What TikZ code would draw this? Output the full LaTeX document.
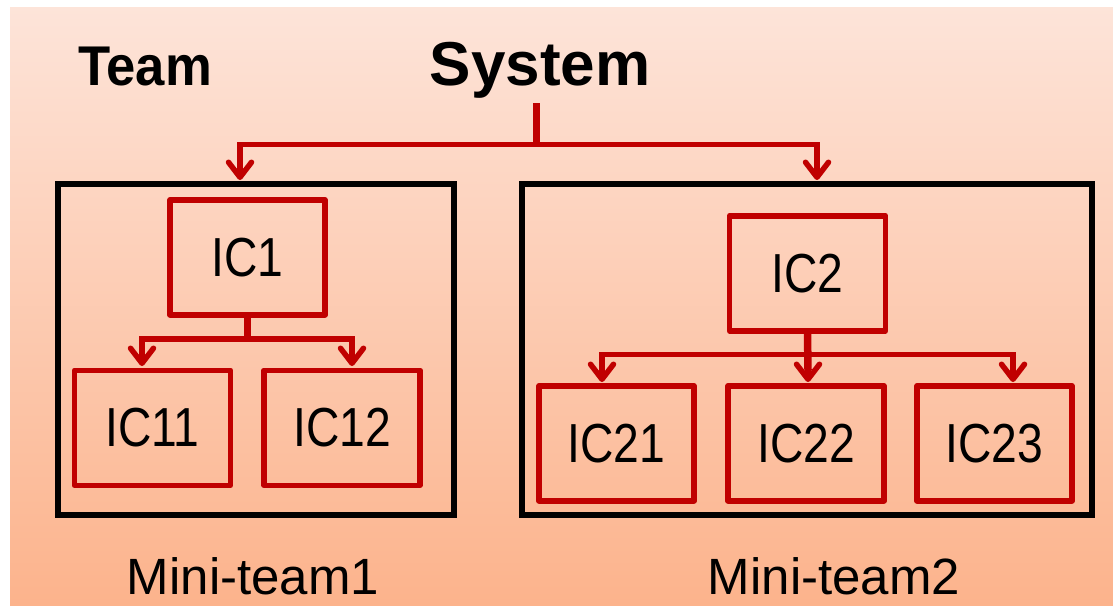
\documentclass[tikz,border=0pt]{standalone}
\usepackage{fontspec}
\setmainfont{Liberation Sans}
\usepackage{graphicx}
\usetikzlibrary{arrows.meta}
\definecolor{bgtop}{RGB}{253,228,217}
\definecolor{bgbot}{RGB}{252,179,140}
\definecolor{icred}{RGB}{192,0,0}
% narrow set for the box labels
\newcommand\boxlabel[1]{\scalebox{0.84}[1]{#1}}
\begin{document}
\begin{tikzpicture}[x=1pt,y=-1pt,
  teamframe/.style={draw=black,line width=5.5pt,inner sep=0pt,minimum height=331pt},
  icbox/.style={draw=icred,line width=5.5pt,line join=round,inner sep=0pt,
    minimum height=115pt,minimum width=156pt,font=\fontsize{55}{60}\selectfont},
  stemline/.style={draw=icred,line width=7.5pt},
  branch/.style={draw=icred,line width=5.5pt,
    -{Straight Barb[length=15pt,width=23pt,round]}},
  title/.style={anchor=base,inner sep=0pt,font=\bfseries},
  caption/.style={anchor=base,inner sep=0pt,font=\fontsize{51}{60}\selectfont}]

% page and shaded backdrop
\fill[white] (0,0) rectangle (1113,605);
\useasboundingbox (0,0) rectangle (1113,605);
\fill[top color=bgtop,bottom color=bgbot] (10,7) rectangle (1113,605);

% headings
\node[title,font=\bfseries\fontsize{56}{60}\selectfont] (team) at (145,85) {\scalebox{0.94}[1]{Team}};
\node[title,font=\bfseries\fontsize{62}{70}\selectfont] (sys) at (540,85) {System};

% mini-team frames
\node[teamframe,minimum width=396pt] (mt1) at (256,349.5) {};
\node[teamframe,minimum width=570pt] (mt2) at (807,349.5) {};

% boxes of the first mini-team
\node[icbox,minimum width=155pt] (ic1)  at (247.5,257.25) {\boxlabel{IC1}};
\node[icbox] (ic11) at (152.5,427.75) {\boxlabel{IC11}};
\node[icbox] (ic12) at (342,427.75) {\boxlabel{IC12}};

% boxes of the second mini-team
\node[icbox] (ic2)  at (807.5,273.25) {\boxlabel{IC2}};
\node[icbox,minimum width=155pt] (ic21) at (616.5,443.25) {\boxlabel{IC21}};
\node[icbox] (ic22) at (806,443.25) {\boxlabel{IC22}};
\node[icbox,minimum width=155pt] (ic23) at (994.5,443.25) {\boxlabel{IC23}};

% captions
\node[caption] (cap1) at (253,594) {Mini-team1};
\node[caption] (cap2) at (834,594) {Mini-team2};

% branch points and arrow ends
\coordinate (sysstem) at (536.5,103);
\coordinate (sysjoin) at (536.5,144.5);
\coordinate (mt1in) at (240,180);
\coordinate (mt2in) at (817,180);

\coordinate (ic1join) at (247.5,339);
\coordinate (ic11in) at (142,366);
\coordinate (ic12in) at (352,366);

\coordinate (ic2join) at (808,354.5);
\coordinate (ic2stem) at (808,370);
\coordinate (ic21in) at (602,382);
\coordinate (ic22in) at (808,382);
\coordinate (ic23in) at (1013,382);

% System to the two mini-teams
\draw[stemline] (sysstem) -- (sysjoin);
\draw[branch] (sysjoin) -| (mt1in);
\draw[branch] (sysjoin) -| (mt2in);

% IC1 to its parts
\draw[stemline] (ic1.south) -- ([yshift=-3pt]ic1join);
\draw[branch] (ic1join) -| (ic11in);
\draw[branch] (ic1join) -| (ic12in);

% IC2 to its parts
\draw[stemline] (ic2.south) -- (ic2stem);
\draw[branch] (ic2join) -| (ic21in);
\draw[branch] (ic2join) -- (ic22in);
\draw[branch] (ic2join) -| (ic23in);
\end{tikzpicture}
\end{document}
